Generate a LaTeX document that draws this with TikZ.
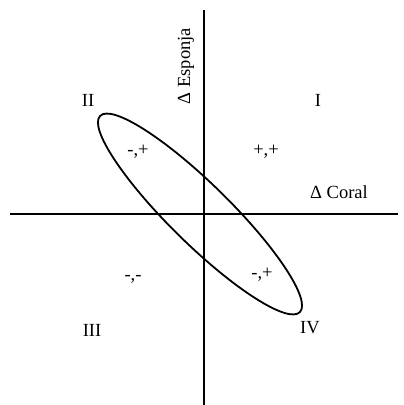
\documentclass[tikz,border=0pt]{standalone}
\usepackage{fontspec}
\setmainfont{Liberation Serif}
\begin{document}
\begin{tikzpicture}[x=1pt,y=-1pt,
  axis/.style={line width=2.2pt},
  oval/.style={line width=1.8pt},
  lbl/.style={font=\fontsize{18.5}{22}\selectfont, inner sep=0pt}]
\useasboundingbox (0,0) rectangle (404,405);
\coordinate (xl) at (10,214);
\coordinate (xr) at (398,214);
\coordinate (yt) at (204,10);
\coordinate (yb) at (204,405);
\draw[axis] (xl) -- (xr);
\draw[axis] (yt) -- (yb);
\coordinate (c) at (200,214);
\draw[oval] (c) ellipse[x radius=140, y radius=30, rotate=-44.5];
\node[lbl] (q1) at (318,100) {I};
\node[lbl] (q2) at (88,100) {II};
\node[lbl] (q3) at (92,330) {III};
\node[lbl] (q4) at (310,328) {IV};
\node[lbl] (a) at (138,152) {-,+};
\node[lbl] (b) at (266,152) {+,+};
\node[lbl] (d) at (133,279) {-,-};
\node[lbl] (e) at (262,275) {-,+};
\node[lbl] (cor) at (339,192) {Δ Coral};
\node[lbl, rotate=90] (esp) at (186,66) {Δ Esponja};
\end{tikzpicture}
\end{document}
